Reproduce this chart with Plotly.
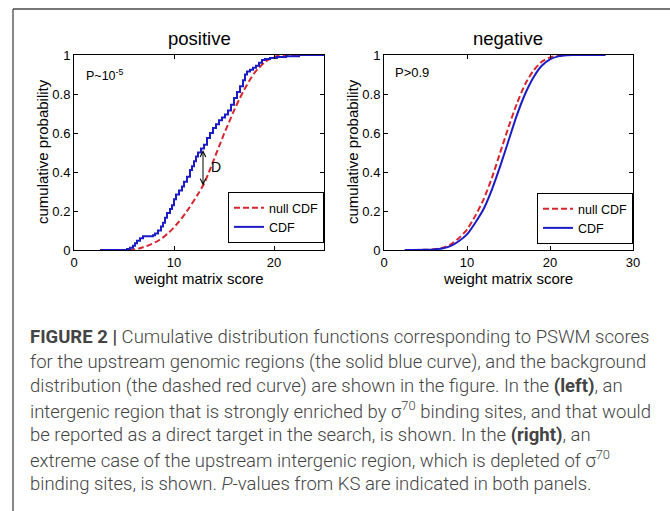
import numpy as np
import plotly.graph_objects as go

W, H = 670, 511

# ---- positive panel: empirical CDF of the upstream region (steps) and null CDF
pos_score = [2.6, 5.3, 5.6, 5.9, 6.1, 6.3, 6.6, 6.9, 7.9, 8.1,
             8.4, 8.7, 8.9, 9.1, 9.3, 9.6, 9.8, 10.0, 10.2, 10.5,
             10.8, 11.0, 11.3, 11.6, 11.8, 12.0, 12.2, 12.4, 12.7, 13.0,
             13.3, 13.6, 13.9, 14.2, 14.5, 14.8, 15.1, 15.4, 15.7, 16.0,
             16.3, 16.6, 16.9, 17.1, 17.3, 17.6, 17.9, 18.2, 18.5, 18.8,
             19.1, 19.6, 20.3, 21.2, 22.5, 25.0]
pos_cdf = [0.0, 0.005, 0.012, 0.022, 0.035, 0.048, 0.06, 0.07, 0.075, 0.085,
           0.10, 0.12, 0.14, 0.165, 0.19, 0.21, 0.23, 0.26, 0.285, 0.305,
           0.325, 0.35, 0.375, 0.41, 0.43, 0.455, 0.48, 0.50, 0.52, 0.54,
           0.575, 0.60, 0.625, 0.645, 0.665, 0.68, 0.695, 0.715, 0.745, 0.78,
           0.81, 0.84, 0.87, 0.90, 0.915, 0.925, 0.935, 0.945, 0.96, 0.975,
           0.98, 0.985, 0.99, 0.993, 1.0, 1.0]

pos_null_score = [5.5, 6.5, 7.5, 8.5, 9.5, 10.5, 11.5, 12.5, 13.0, 13.5,
                  14.0, 14.5, 15.0, 15.5, 16.0, 16.5, 17.0, 17.5, 18.0, 18.5,
                  19.0, 19.5, 20.0, 20.5, 21.0, 22.5]
pos_null_cdf = [0.0, 0.008, 0.025, 0.05, 0.09, 0.145, 0.215, 0.295, 0.34, 0.40,
                0.465, 0.53, 0.595, 0.655, 0.715, 0.77, 0.82, 0.865, 0.905, 0.935,
                0.96, 0.978, 0.99, 0.996, 1.0, 1.0]

# KS distance is marked at this score
D_SCORE = 12.9

# ---- negative panel: upstream CDF and null CDF
neg_score = [2.5, 5, 6, 7, 8, 9, 10, 11, 12, 13, 14, 15, 16, 17, 18, 19, 20, 21, 22, 23, 26.7]
neg_cdf = [0.0, 0.001, 0.003, 0.008, 0.02, 0.045, 0.08, 0.14, 0.21, 0.31, 0.43,
           0.56, 0.69, 0.80, 0.885, 0.945, 0.978, 0.993, 0.999, 1.0, 1.0]

neg_null_score = [2.5, 5, 6, 7, 8, 9, 10, 11, 12, 13, 14, 15, 16, 17, 18, 19, 20, 21, 22, 26.5]
neg_null_cdf = [0.0, 0.001, 0.004, 0.011, 0.028, 0.06, 0.105, 0.175, 0.26, 0.37, 0.50,
                0.63, 0.75, 0.85, 0.92, 0.965, 0.988, 0.997, 1.0, 1.0]

y_ticks = [0, 0.2, 0.4, 0.6, 0.8, 1]
y_tick_text = ["0", "0.2", "0.4", "0.6", "0.8", "1"]
pos_x_ticks = [0, 10, 20]
neg_x_ticks = [0, 10, 20, 30]

panel_titles = ["positive", "negative"]
p_labels = ["P~10<sup>-5</sup>", "P>0.9"]
x_title = "weight matrix score"
y_title = "cumulative probability"

caption_lines = [
    "<b>FIGURE 2 |</b> Cumulative distribution functions corresponding to PSWM scores",
    "for the upstream genomic regions (the solid blue curve), and the background",
    "distribution (the dashed red curve) are shown in the figure. In the <b>(left)</b>, an",
    "intergenic region that is strongly enriched by σ<sup>70</sup> binding sites, and that would",
    "be reported as a direct target in the search, is shown. In the <b>(right)</b>, an",
    "extreme case of the upstream intergenic region, which is depleted of σ<sup>70</sup>",
    "binding sites, is shown. <i>P</i>-values from KS are indicated in both panels.",
]

BLUE = "#1c1cc6"
RED = "#d9262e"
FONT = "Liberation Sans, Arial, sans-serif"


def px(x):
    return x / W


def py(y):
    return 1 - y / H


fig = go.Figure()

# left panel
fig.add_trace(go.Scatter(x=pos_null_score, y=pos_null_cdf, mode="lines", name="null CDF",
                         line=dict(color=RED, width=2, dash="6px,3px", shape="spline", smoothing=0.6),
                         xaxis="x", yaxis="y", legend="legend"))
fig.add_trace(go.Scatter(x=pos_score, y=pos_cdf, mode="lines", name="CDF",
                         line=dict(color=BLUE, width=2, shape="hv"),
                         xaxis="x", yaxis="y", legend="legend"))
# right panel
fig.add_trace(go.Scatter(x=neg_null_score, y=neg_null_cdf, mode="lines", name="null CDF",
                         line=dict(color=RED, width=2, dash="6px,3px", shape="spline", smoothing=0.6),
                         xaxis="x2", yaxis="y2", legend="legend2"))
fig.add_trace(go.Scatter(x=neg_score, y=neg_cdf, mode="lines", name="CDF",
                         line=dict(color=BLUE, width=2, shape="spline", smoothing=0.6),
                         xaxis="x2", yaxis="y2", legend="legend2"))

# KS distance arrow between the two curves in the left panel
idx = int(np.searchsorted(pos_score, D_SCORE, side="right")) - 1
d_top = pos_cdf[idx]
d_bottom = float(np.interp(D_SCORE, pos_null_score, pos_null_cdf))

axis_common = dict(showline=True, linecolor="black", linewidth=1, mirror="ticks",
                   ticks="inside", ticklen=4, tickcolor="black", showgrid=False,
                   zeroline=False, automargin=False,
                   tickfont=dict(size=13, color="black", family=FONT))

legend_common = dict(xanchor="left", yanchor="bottom", bordercolor="black", borderwidth=1,
                     bgcolor="white", font=dict(size=12.5, family=FONT), tracegroupgap=0)

fig.update_layout(
    width=W, height=H,
    margin=dict(l=0, r=0, t=0, b=0, autoexpand=False),
    paper_bgcolor="white", plot_bgcolor="white",
    font=dict(family=FONT, color="black"),
    xaxis=dict(domain=[px(74), px(324)], range=[0, 25], tickvals=pos_x_ticks,
               title=dict(text=x_title, font=dict(size=15), standoff=3), anchor="y", **axis_common),
    yaxis=dict(domain=[py(250), py(55)], range=[0, 1], tickvals=y_ticks, ticktext=y_tick_text,
               anchor="x", **axis_common),
    xaxis2=dict(domain=[px(384), px(633)], range=[0, 30], tickvals=neg_x_ticks,
                title=dict(text=x_title, font=dict(size=15), standoff=3), anchor="y2", **axis_common),
    yaxis2=dict(domain=[py(250), py(55)], range=[0, 1], tickvals=y_ticks, ticktext=y_tick_text,
                anchor="x2", **axis_common),
    legend=dict(x=px(228), y=py(243), **legend_common),
    legend2=dict(x=px(537), y=py(244), **legend_common),
)

annotations = []
# panel titles
for title, xc in zip(panel_titles, [199, 508]):
    annotations.append(dict(text=title, x=px(xc), y=py(38), xref="paper", yref="paper",
                            showarrow=False, font=dict(size=18.5, family=FONT, color="black"),
                            xanchor="center", yanchor="middle"))
# y-axis titles, rotated
for xc in [42, 352]:
    annotations.append(dict(text=y_title, x=px(xc), y=py(152), xref="paper", yref="paper",
                            showarrow=False, textangle=-90, font=dict(size=15, family=FONT, color="black"),
                            xanchor="center", yanchor="middle"))
# P-value labels
annotations.append(dict(text=p_labels[0], x=px(84), y=py(75), xref="paper", yref="paper",
                        showarrow=False, font=dict(size=12.5, family=FONT, color="black"),
                        xanchor="left", yanchor="middle"))
annotations.append(dict(text=p_labels[1], x=px(393), y=py(73), xref="paper", yref="paper",
                        showarrow=False, font=dict(size=13, family=FONT, color="black"),
                        xanchor="left", yanchor="middle"))
# double-headed arrow for D
annotations.append(dict(x=D_SCORE, y=d_bottom, ax=D_SCORE, ay=d_top, xref="x", yref="y",
                        axref="x", ayref="y", text="", showarrow=True, arrowhead=5,
                        startarrowhead=5, arrowside="end+start", arrowsize=1.1,
                        arrowwidth=1, arrowcolor="black", standoff=0, startstandoff=0))
annotations.append(dict(text="D", x=D_SCORE + 0.6, y=(d_top + d_bottom) / 2, xref="x", yref="y",
                        showarrow=False, font=dict(size=14, family=FONT, color="black"),
                        xanchor="left", yanchor="middle"))
# caption
for i, line in enumerate(caption_lines):
    annotations.append(dict(text=line, x=px(28), y=py(337 + 24.5 * i), xref="paper", yref="paper",
                            showarrow=False, xanchor="left", yanchor="middle", align="left",
                            font=dict(size=18.5, family="Roboto", weight=300, color="#444444")))
fig.update_layout(annotations=annotations)

# frame lines on the top and left of the figure
fig.add_shape(type="line", xref="paper", yref="paper", x0=px(13), x1=1, y0=py(9), y1=py(9),
              line=dict(color="#4a4a4a", width=1.3))
fig.add_shape(type="line", xref="paper", yref="paper", x0=px(13), x1=px(13), y0=py(9), y1=0,
              line=dict(color="#4a4a4a", width=1.3))

fig.write_html("out.html")
